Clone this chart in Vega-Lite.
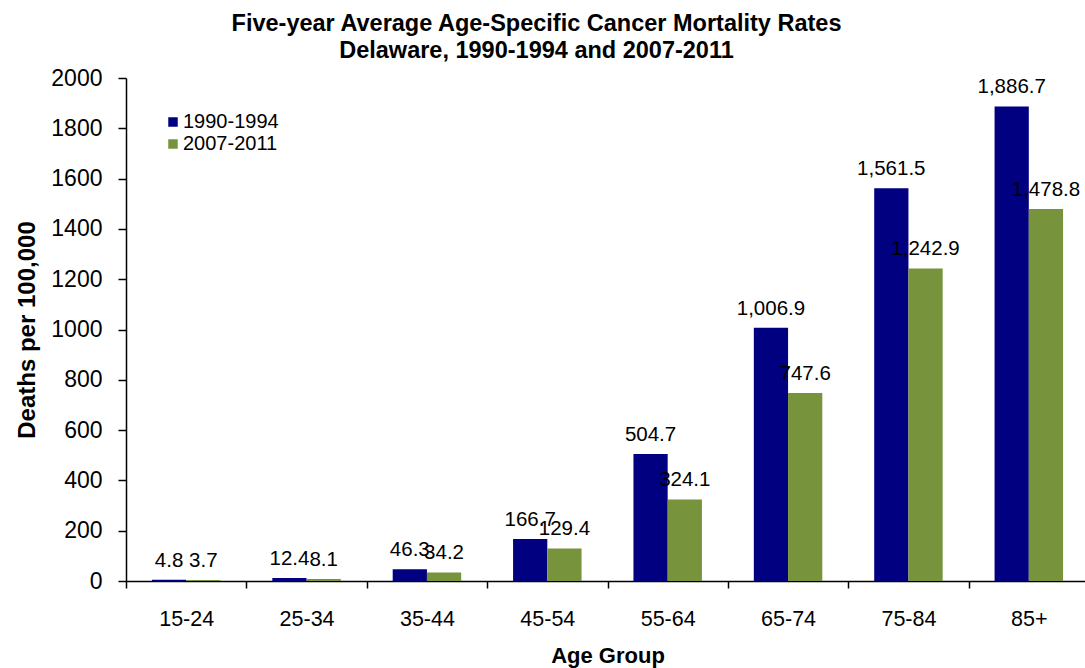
{
  "$schema": "https://vega.github.io/schema/vega-lite/v6.json",
  "autosize": "none",
  "padding": {"left": 126, "top": 78, "right": 0, "bottom": 87},
  "width": 963,
  "height": 503,
  "background": "white",
  "config": {
    "font": "Liberation Sans",
    "view": {"stroke": null},
    "axis": {"labelFont": "Liberation Sans", "titleFont": "Liberation Sans", "labelColor": "black", "titleColor": "black", "domainColor": "black", "tickColor": "black", "grid": false}
  },
  "title": {
    "text": ["Five-year Average Age-Specific Cancer Mortality Rates", "Delaware, 1990-1994 and 2007-2011"],
    "fontSize": 23.5,
    "fontWeight": "bold",
    "font": "Liberation Sans",
    "color": "black",
    "anchor": "middle",
    "frame": "group",
    "dx": -71,
    "lineHeight": 27,
    "offset": 5
  },
  "data": {
    "values": [
      {"age": "15-24", "period": "1990-1994", "rate": 4.8},
      {"age": "15-24", "period": "2007-2011", "rate": 3.7},
      {"age": "25-34", "period": "1990-1994", "rate": 12.4},
      {"age": "25-34", "period": "2007-2011", "rate": 8.1},
      {"age": "35-44", "period": "1990-1994", "rate": 46.3},
      {"age": "35-44", "period": "2007-2011", "rate": 34.2},
      {"age": "45-54", "period": "1990-1994", "rate": 166.7},
      {"age": "45-54", "period": "2007-2011", "rate": 129.4},
      {"age": "55-64", "period": "1990-1994", "rate": 504.7},
      {"age": "55-64", "period": "2007-2011", "rate": 324.1},
      {"age": "65-74", "period": "1990-1994", "rate": 1006.9},
      {"age": "65-74", "period": "2007-2011", "rate": 747.6},
      {"age": "75-84", "period": "1990-1994", "rate": 1561.5},
      {"age": "75-84", "period": "2007-2011", "rate": 1242.9},
      {"age": "85+", "period": "1990-1994", "rate": 1886.7},
      {"age": "85+", "period": "2007-2011", "rate": 1478.8}
    ]
  },
  "encoding": {
    "x": {
      "field": "age", "type": "nominal", "sort": null,
      "scale": {"paddingInner": 0, "paddingOuter": 0},
      "axis": {"title": "Age Group", "labelAngle": 0, "labelFontSize": 21.5, "titleFontSize": 22, "titleFontWeight": "bold", "tickBand": "extent", "tickSize": 7, "labelPadding": 20, "titlePadding": 16, "domainWidth": 1.5, "tickWidth": 1.5}
    },
    "xOffset": {"field": "period", "type": "nominal", "scale": {"paddingInner": 0, "paddingOuter": 0.758}},
    "y": {
      "field": "rate", "type": "quantitative",
      "scale": {"domain": [0, 2000], "nice": false},
      "axis": {"title": "Deaths per 100,000", "format": "d", "values": [0, 200, 400, 600, 800, 1000, 1200, 1400, 1600, 1800, 2000], "labelFontSize": 23, "titleFontSize": 24, "titleFontWeight": "bold", "tickSize": 8, "labelPadding": 16, "titlePadding": 11, "domainWidth": 1.5, "tickWidth": 1.5}
    }
  },
  "layer": [
    {
      "mark": {"type": "bar"},
      "encoding": {
        "color": {
          "field": "period", "type": "nominal",
          "scale": {"domain": ["1990-1994", "2007-2011"], "range": ["#000080", "#77933C"]},
          "legend": {"title": null, "orient": "none", "legendX": 37, "legendY": 34, "symbolType": "square", "symbolSize": 90, "labelFontSize": 20, "labelFont": "Liberation Sans", "labelColor": "black", "rowPadding": 2, "padding": 0, "symbolStrokeWidth": 0, "labelOffset": 0}
        }
      }
    },
    {
      "mark": {"type": "text", "fontSize": 20.5, "font": "Liberation Sans", "color": "black", "baseline": "alphabetic", "dy": -13},
      "encoding": {
        "text": {"field": "rate", "type": "quantitative", "format": ",.1f"}
      }
    }
  ]
}
